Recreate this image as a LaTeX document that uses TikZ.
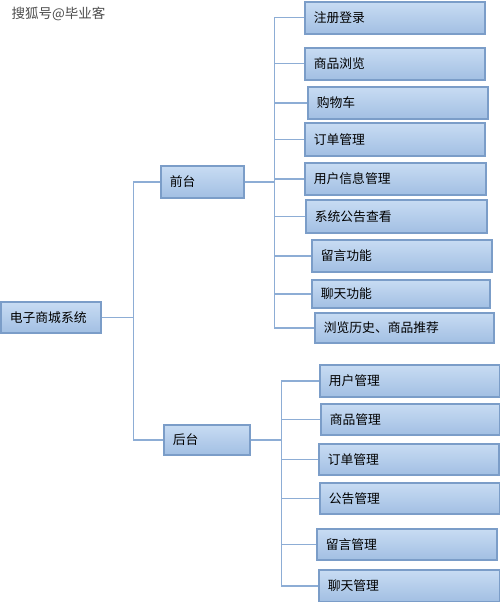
\documentclass[tikz,border=0pt]{standalone}
\usepackage{fontspec}
\newfontfamily\cjk{Noto Sans CJK SC}
\usetikzlibrary{positioning}
\definecolor{bxline}{HTML}{7B9DC8}
\definecolor{bxtop}{HTML}{C8DCF3}
\definecolor{bxbot}{HTML}{A2BFE3}
\definecolor{lnc}{HTML}{8DADD5}
\tikzstyle{bx}=[draw=bxline,line width=1.6pt,top color=bxtop,bottom color=bxbot,anchor=north west,inner xsep=9pt,inner ysep=0pt,align=left,font=\cjk\fontsize{12.8}{14}\selectfont]
\tikzstyle{ln}=[draw=lnc,line width=1.4pt]

\begin{document}
\begin{tikzpicture}[x=1pt,y=-1pt]
\useasboundingbox (0,0) rectangle (500,602);
\node[anchor=north west,font=\cjk\fontsize{13.5}{15}\selectfont,text=black!70] (wm) at (8,4) {搜狐号@毕业客};
% root and the two parts
\node[bx,text width=82pt,minimum height=31pt] (sys) at (0,301) {电子商城系统};
\node[bx,text width=65pt,minimum height=32pt] (fg) at (160,165) {前台};
\node[bx,text width=68pt,minimum height=30pt] (bg) at (163,424) {后台};
% front part
\node[bx,text width=162pt,minimum height=32pt] (zc) at (304,1) {注册登录};
\node[bx,text width=162pt,minimum height=32pt] (sp) at (304,47) {商品浏览};
\node[bx,text width=162pt,minimum height=32pt] (gw) at (307,86) {购物车};
\node[bx,text width=162pt,minimum height=33pt] (dd) at (304,122) {订单管理};
\node[bx,text width=163pt,minimum height=32pt] (yh) at (304,162) {用户信息管理};
\node[bx,text width=163pt,minimum height=33pt] (gg) at (305,199) {系统公告查看};
\node[bx,text width=162pt,minimum height=32pt] (ly) at (311,239) {留言功能};
\node[bx,text width=160pt,minimum height=28pt] (lt) at (311,279) {聊天功能};
\node[bx,text width=161pt,minimum height=30pt] (ll) at (314,312) {浏览历史、商品推荐};
% back part
\node[bx,text width=162pt,minimum height=32pt] (yg) at (319,364) {用户管理};
\node[bx,text width=161pt,minimum height=31pt] (sg) at (320,403) {商品管理};
\node[bx,text width=162pt,minimum height=31pt] (dg) at (318,443) {订单管理};
\node[bx,text width=162pt,minimum height=31pt] (gl) at (319,482) {公告管理};
\node[bx,text width=162pt,minimum height=31pt] (lg) at (316,528) {留言管理};
\node[bx,text width=163pt,minimum height=32pt] (tg) at (318,569) {聊天管理};
% connectors
\draw[ln] (sys.east) -- ++(32,0) coordinate (j0);
\draw[ln] (fg.west) -| (j0);
\draw[ln] (bg.west) -| (j0);
\draw[ln] (fg.east) -- ++(30,0) coordinate (fj);
\draw[ln] (zc.west) -| (fj);
\draw[ln] (sp.west) -| (fj);
\draw[ln] (gw.west) -| (fj);
\draw[ln] (dd.west) -| (fj);
\draw[ln] (yh.west) -| (fj);
\draw[ln] (gg.west) -| (fj);
\draw[ln] (ly.west) -| (fj);
\draw[ln] (lt.west) -| (fj);
\draw[ln] (ll.west) -| (fj);
\draw[ln] (bg.east) -- ++(31,0) coordinate (bj);
\draw[ln] (yg.west) -| (bj);
\draw[ln] (sg.west) -| (bj);
\draw[ln] (dg.west) -| (bj);
\draw[ln] (gl.west) -| (bj);
\draw[ln] (lg.west) -| (bj);
\draw[ln] (tg.west) -| (bj);
\end{tikzpicture}
\end{document}
